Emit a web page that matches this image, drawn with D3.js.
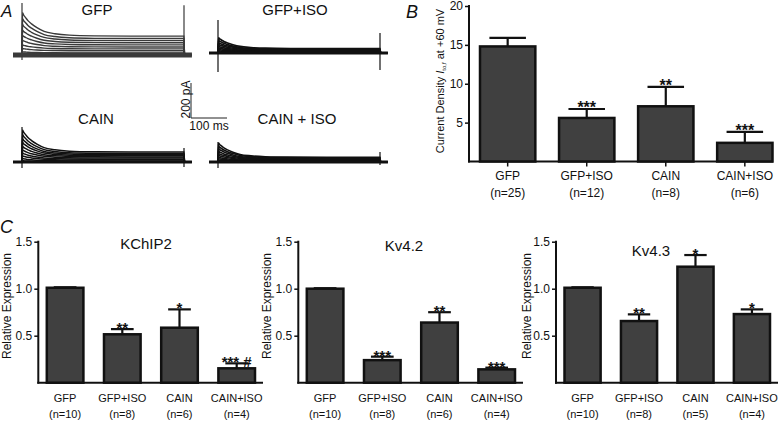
<!DOCTYPE html>
<html><head><meta charset="utf-8">
<script src="https://cdn.jsdelivr.net/npm/d3@7"></script>
<style>
body{margin:0;background:#fff}
svg{display:block}
text{font-family:"Liberation Sans",Arial,Helvetica,sans-serif;fill:#111}
</style>
</head><body>
<svg id="chart" width="780" height="423"></svg>
<script>
// ---------- DATA ----------
const groups = ["GFP", "GFP+ISO", "CAIN", "CAIN+ISO"];

// Panel B: current density (pA/pF) at +60 mV
const densityN = ["(n=25)", "(n=12)", "(n=8)", "(n=6)"];
const densityMean = [14.8, 5.6, 7.1, 2.4];
const densityErr = [1.1, 1.15, 2.5, 1.4];
const densityStars = ["", "***", "**", "***"];
const densityTicks = [5, 10, 15, 20];

// Panel C: relative expression
const exprTicks = [0.5, 1.0, 1.5];
const kchip2Mean = [1.01, 0.515, 0.585, 0.153];
const kchip2Err = [0.005, 0.055, 0.195, 0.053];
const kchip2N = ["(n=10)", "(n=8)", "(n=6)", "(n=4)"];
const kchip2Stars = ["", "**", "*", "*** #"];

const kv42Mean = [1.0, 0.24, 0.64, 0.142];
const kv42Err = [0.005, 0.037, 0.11, 0.018];
const kv42N = ["(n=10)", "(n=8)", "(n=6)", "(n=4)"];
const kv42Stars = ["", "***", "**", "***"];

const kv43Mean = [1.01, 0.656, 1.234, 0.73];
const kv43Err = [0.005, 0.071, 0.124, 0.05];
const kv43N = ["(n=10)", "(n=8)", "(n=5)", "(n=4)"];
const kv43Stars = ["", "**", "*", "*"];

// Panel A: current traces (pA)
const traceTitles = ["GFP", "GFP+ISO", "CAIN", "CAIN + ISO"];
const gfpPeak = [242, 208, 174, 142, 112, 84, 57, 37, 18, 5];
const gfpSteady = [108, 94, 82, 70, 58, 46, 35, 24, 12, 2];
const gfpIsoPeak = [87, 73, 60, 49, 38, 29, 20, 13, 6, 2];
const gfpIsoSteady = [25, 21, 18, 15, 12, 9, 6, 4, 2, 0];
const cainPeak = [183, 157, 133, 112, 90, 69, 51, 35, 20, 7];
const cainSteady = [57, 49, 42, 36, 29, 23, 16, 11, 5, 2];
const cainIsoPeak = [108, 91, 77, 62, 49, 38, 27, 18, 10, 4];
const cainIsoSteady = [27, 24, 20, 16, 13, 10, 7, 5, 3, 1];
// capacitive artifacts: [onset up, onset down, offset up, offset down] (pA)
const gfpArtifact = [297, -28, 285, -11];
const gfpIsoArtifact = [188, -109, 114, -97];
const cainArtifact = [200, -34, 80, -28];
const cainIsoArtifact = [114, -34, 57, -17];
// shared inactivation time course (fraction of transient remaining)
const decayTime = [0, 3, 8, 15, 25, 40, 60, 90, 130, 200, 300, 450];
const decayFraction = [1, 0.9, 0.8, 0.66, 0.52, 0.36, 0.2, 0.1, 0.04, 0.01, 0, 0];
const pulseMs = 450;
const scaleBarPA = 200;
const scaleBarMs = 100;

// ---------- DRAWING ----------
const svg = d3.select("#chart");
const FONT = '"Liberation Sans",Arial,Helvetica,sans-serif';
const BAR_FILL = "#404040";

function panelLetter(x, y, t, size) {
  svg.append("text").attr("x", x).attr("y", y).attr("font-size", size)
    .attr("font-style", "italic").text(t);
}

// ----- Panel A -----
panelLetter(1, 17, "A", 17);
const tScale = d3.scaleLinear().domain([0, 1]).range([0, 0.36]); // px per ms
const iScale = d3.scaleLinear().domain([0, 1]).range([0, -0.175]); // px per pA
const tracePanels = [
  {title: traceTitles[0], peak: gfpPeak, steady: gfpSteady, art: gfpArtifact, x0: 22, y0: 55, tx: 97, ty: 15, color: "#3a3a3a", w: 1.4, base: 5},
  {title: traceTitles[1], peak: gfpIsoPeak, steady: gfpIsoSteady, art: gfpIsoArtifact, x0: 218, y0: 53, tx: 295, ty: 15, color: "#111", w: 1.7, base: 3},
  {title: traceTitles[2], peak: cainPeak, steady: cainSteady, art: cainArtifact, x0: 22, y0: 162, tx: 96, ty: 124, color: "#111", w: 1.5, base: 3},
  {title: traceTitles[3], peak: cainIsoPeak, steady: cainIsoSteady, art: cainIsoArtifact, x0: 218, y0: 162, tx: 297, ty: 124, color: "#111", w: 1.6, base: 3}
];
tracePanels.forEach(p => {
  const x = d3.scaleLinear().domain([0, 1]).range([p.x0, p.x0 + tScale(1)]);
  const y = d3.scaleLinear().domain([0, 1]).range([p.y0, p.y0 + iScale(1)]);
  const g = svg.append("g");
  const line = d3.line().x(d => x(d[0])).y(d => y(d[1])).curve(d3.curveMonotoneX);
  // baseline (holding current)
  g.append("path").attr("d", line([[-25, 0], [pulseMs + 22, 0]]))
    .attr("stroke", p.color).attr("stroke-width", p.base).attr("fill", "none");
  // artifacts
  g.append("path").attr("d", d3.line()([[x(0), y(p.art[0])], [x(0), y(p.art[1])]]))
    .attr("stroke", p.color).attr("stroke-width", 1.2);
  g.append("path").attr("d", d3.line()([[x(pulseMs), y(p.art[2])], [x(pulseMs), y(p.art[3])]]))
    .attr("stroke", p.color).attr("stroke-width", 1.2);
  p.peak.forEach((pk, i) => {
    const ss = p.steady[i];
    const pts = [[-25, 0], [0, 0]];
    decayTime.forEach((t, k) => pts.push([t + 1.5, ss + (pk - ss) * decayFraction[k]]));
    pts.push([pulseMs, ss], [pulseMs + 1.5, 0], [pulseMs + 22, 0]);
    g.append("path").attr("d", line(pts)).attr("fill", "none")
      .attr("stroke", p.color).attr("stroke-width", p.w);
  });
  svg.append("text").attr("x", p.tx).attr("y", p.ty).attr("text-anchor", "middle")
    .attr("font-size", 15).text(p.title);
});
// scale bar
{
  const sx = 191, sy = 118;
  const h = -iScale(scaleBarPA), w = tScale(scaleBarMs);
  svg.append("path").attr("d", d3.line()([[sx, sy - h], [sx, sy], [sx + w, sy]]))
    .attr("fill", "none").attr("stroke", "#222").attr("stroke-width", 1);
  svg.append("text").attr("transform", `translate(${sx - 1.5},${sy - h / 2 - 1}) rotate(-90)`)
    .attr("text-anchor", "middle").attr("font-size", 12).text(scaleBarPA + " pA");
  svg.append("text").attr("x", sx + w / 2).attr("y", sy + 12).attr("text-anchor", "middle")
    .attr("font-size", 12).text(scaleBarMs + " ms");
}

// ----- generic bar panel -----
function barPanel(cfg) {
  const y = d3.scaleLinear().domain(cfg.domain).range([cfg.y0, cfg.y1]);
  const x = d3.scaleBand().domain(groups).range([cfg.bx0, cfg.bx1])
    .paddingInner(cfg.padIn).paddingOuter(0);
  const g = svg.append("g");
  // y axis
  const ax = g.append("g").attr("transform", `translate(${cfg.ax},0)`)
    .call(d3.axisLeft(y).tickValues(cfg.ticks).tickFormat(cfg.fmt).tickSize(4).tickPadding(2).tickSizeOuter(0));
  ax.select(".domain").remove();
  ax.selectAll(".tick line").attr("stroke", "#111").attr("stroke-width", 1.5);
  ax.selectAll(".tick text").attr("font-size", cfg.tickFont).attr("font-family", FONT).attr("fill", "#111");
  g.append("line").attr("x1", cfg.ax).attr("x2", cfg.ax).attr("y1", y(cfg.domain[1]) - 1).attr("y2", cfg.y0 + 1)
    .attr("stroke", "#111").attr("stroke-width", 2);
  g.append("line").attr("x1", cfg.ax - 1).attr("x2", cfg.axEnd).attr("y1", cfg.y0).attr("y2", cfg.y0)
    .attr("stroke", "#111").attr("stroke-width", 2);
  if (cfg.xTicks) {
    groups.forEach(gn => g.append("line").attr("x1", x(gn) + x.bandwidth() / 2).attr("x2", x(gn) + x.bandwidth() / 2)
      .attr("y1", cfg.y0).attr("y2", cfg.y0 + 5).attr("stroke", "#111").attr("stroke-width", 1.5));
  }
  const bw = x.bandwidth();
  groups.forEach((gn, i) => {
    const cx = x(gn) + bw / 2;
    const top = y(cfg.mean[i]), et = y(cfg.mean[i] + cfg.err[i]);
    // error bar
    g.append("line").attr("x1", cx).attr("x2", cx).attr("y1", top).attr("y2", et)
      .attr("stroke", "#111").attr("stroke-width", 2.2);
    g.append("line").attr("x1", cx - bw * cfg.cap / 2).attr("x2", cx + bw * cfg.cap / 2).attr("y1", et).attr("y2", et)
      .attr("stroke", "#111").attr("stroke-width", 2.2);
    g.append("rect").attr("x", x(gn)).attr("y", top).attr("width", bw).attr("height", cfg.y0 - top)
      .attr("fill", BAR_FILL).attr("stroke", "#111").attr("stroke-width", 2.5);
    if (cfg.stars[i]) {
      g.append("text").attr("x", cx).attr("y", et + cfg.starDy).attr("text-anchor", "middle")
        .attr("font-size", cfg.starFont).attr("font-weight", "bold").text(cfg.stars[i]);
    }
    g.append("text").attr("x", cx).attr("y", cfg.lab1).attr("text-anchor", "middle")
      .attr("font-size", cfg.labFont).text(gn);
    g.append("text").attr("x", cx).attr("y", cfg.lab2).attr("text-anchor", "middle")
      .attr("font-size", cfg.labFont).text(cfg.n[i]);
  });
  return {x, y};
}

// ----- Panel B -----
panelLetter(406, 18, "B", 18);
barPanel({
  domain: [0, 20], y0: 161.5, y1: 6, ax: 469, axEnd: 773, bx0: 480, bx1: 772.5, padIn: 0.3,
  ticks: densityTicks, fmt: d3.format("d"), tickFont: 12,
  mean: densityMean, err: densityErr, stars: densityStars, n: densityN,
  cap: 0.66, starDy: 4, starFont: 16, lab1: 179.5, lab2: 196.5, labFont: 12, xTicks: true
});
{
  const t = svg.append("text").attr("transform", "translate(444,81) rotate(-90)")
    .attr("text-anchor", "middle").attr("font-size", 11);
  t.append("tspan").text("Current Density ");
  t.append("tspan").attr("font-style", "italic").text("I");
  t.append("tspan").attr("font-size", 6).attr("dy", 2).text("to,f");
  t.append("tspan").attr("dy", -2).text(" at +60 mV");
}

// ----- Panel C -----
panelLetter(0, 233, "C", 18);
const cPanels = [
  {title: "KChIP2", mean: kchip2Mean, err: kchip2Err, n: kchip2N, stars: kchip2Stars, off: 0, ax: 38.3, axEnd: 263, tx: 146, ty: 249, ylx: 10.5},
  {title: "Kv4.2", mean: kv42Mean, err: kv42Err, n: kv42N, stars: kv42Stars, off: 260, ax: 298.3, axEnd: 523, tx: 404, ty: 251, ylx: 271},
  {title: "Kv4.3", mean: kv43Mean, err: kv43Err, n: kv43N, stars: kv43Stars, off: 520, ax: 556, axEnd: 778, tx: 651, ty: 256, ylx: 531}
];
cPanels.forEach(c => {
  barPanel({
    domain: [0, 1.5], y0: 382.7, y1: 241.7, ax: c.ax, axEnd: c.axEnd,
    bx0: c.ax + 8.5, bx1: c.axEnd - 8, padIn: 0.36,
    ticks: exprTicks, fmt: d3.format(".1f"), tickFont: 12,
    mean: c.mean, err: c.err, stars: c.stars, n: c.n,
    cap: 0.62, starDy: 4, starFont: 15, lab1: 402, lab2: 418, labFont: 11, xTicks: false
  });
  svg.append("text").attr("x", c.tx).attr("y", c.ty).attr("text-anchor", "middle")
    .attr("font-size", 15).text(c.title);
  svg.append("text").attr("transform", `translate(${c.ylx},306) rotate(-90)`)
    .attr("text-anchor", "middle").attr("font-size", 12).text("Relative Expression");
});
</script>
</body></html>
